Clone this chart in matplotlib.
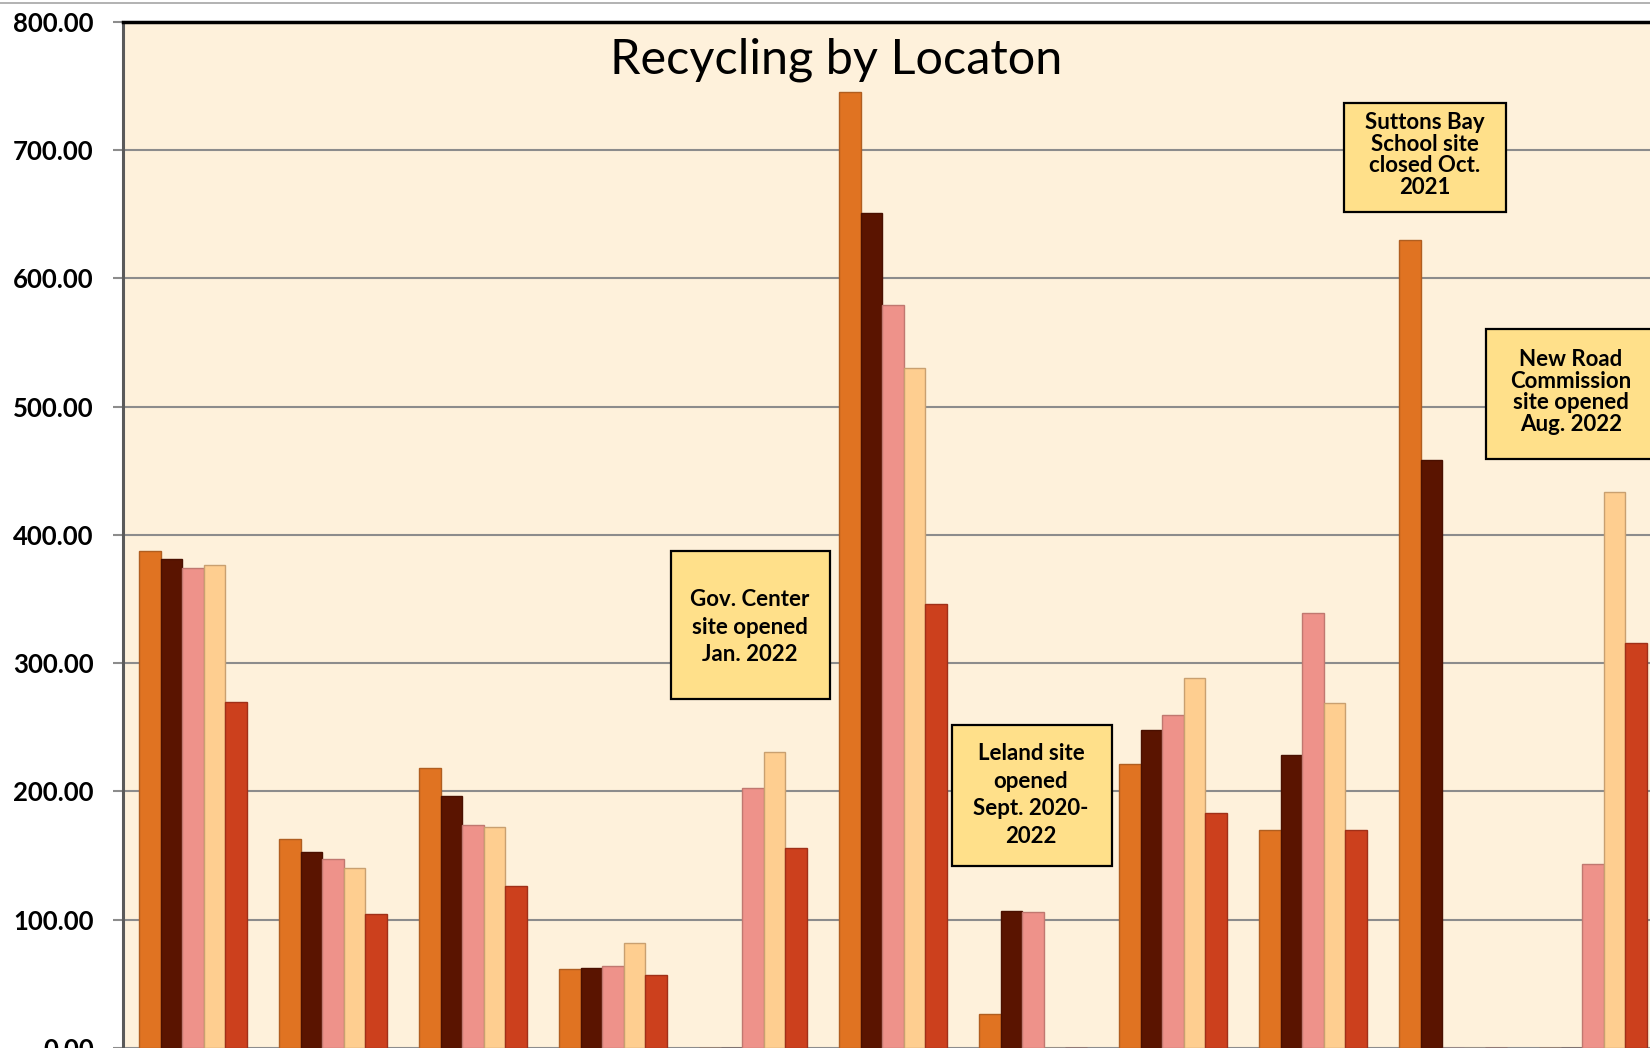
import matplotlib.pyplot as plt
import numpy as np
from matplotlib.patches import Rectangle
from matplotlib.lines import Line2D

plt.rcParams['font.family'] = ['Lato', 'DejaVu Sans']

# valeurs (11 sites, 5 années chacun)
year_1 = [387.7, 163.1, 218.5, 61.6, 0, 745.0, 26.4, 221.0, 170.3, 629.6, 0]
year_2 = [381.2, 153.1, 196.4, 62.4, 0, 651.0, 106.5, 247.9, 228.3, 458.0, 0]
year_3 = [373.8, 147.6, 173.7, 64.0, 202.3, 579.1, 105.7, 259.4, 338.7, 0, 143.5]
year_4 = [376.3, 140.0, 172.0, 82.0, 230.8, 530.0, 0, 288.8, 269.2, 0, 433.6]
year_5 = [270.0, 104.1, 126.2, 56.7, 155.7, 346.0, 0, 183.3, 169.6, 0, 315.8]
series = [year_1, year_2, year_3, year_4, year_5]

colors = ['#E07322', '#5A1400', '#EE928A', '#FECE90', '#CC401D']
edges = ['#B05E20', '#4A1000', '#C07870', '#C9A070', '#A03018']

yticks = [0, 100, 200, 300, 400, 500, 600, 700, 800]
ytick_labels = ['%.2f' % v for v in yticks]

W, H = 1650, 1048
fig = plt.figure(figsize=(W / 100, H / 100), dpi=100)
fig.patch.set_facecolor('white')

left_px, top_px, right_px = 123, 21.7, 1663
ax = fig.add_axes([left_px / W, 0, (right_px - left_px) / W, (H - top_px) / H])
ax.set_facecolor('#FEF1DB')

x = np.arange(len(year_1))
bw = 0.1546
for i, vals in enumerate(series):
    ax.bar(x + (i - 2) * bw, vals, width=bw, color=colors[i],
           edgecolor=edges[i], linewidth=1.0, zorder=3)

ax.set_xlim(-0.5, 10.5)
ax.set_ylim(0, 800)
ax.set_yticks(yticks)
ax.set_yticklabels(ytick_labels, fontsize=18.5, fontweight='bold')
ax.set_xticks([])
ax.grid(axis='y', color='#8C8C8C', linewidth=1.5, zorder=1)
ax.tick_params(axis='y', length=7, width=1.5, color='#8C8C8C', pad=14)

for s in ['right', 'bottom']:
    ax.spines[s].set_visible(False)
ax.spines['top'].set_color('black')
ax.spines['top'].set_linewidth(2.5)
ax.spines['left'].set_color('#5A5A5A')
ax.spines['left'].set_linewidth(2.2)

# ligne grise en haut de la zone du graphique
fig.add_artist(Line2D([0, 1], [1 - 3.3 / H, 1 - 3.3 / H], color='#A6A6A6', linewidth=1.2))

fig.text(836 / W, 1 - 60 / H, 'Recycling by Locaton', ha='center', va='center',
         fontsize=35, color='black')

# encadrés d'annotation (pixels de la figure)
notes = [
    ('Gov. Center\nsite opened\nJan. 2022', (671, 551, 830, 699), (750, 627), 1.4),
    ('Leland site\nopened\nSept. 2020-\n2022', (952, 725, 1112, 866), (1031, 795), 1.4),
    ('Suttons Bay\nSchool site\nclosed Oct.\n2021', (1344, 103, 1506, 212), (1425, 155), 1.02),
    ('New Road\nCommission\nsite opened\nAug. 2022', (1486, 329, 1665, 459), (1571, 392), 1.02),
]
for txt, (x0, y0, x1, y1), (tx, ty), ls in notes:
    rect = Rectangle((x0 / W, 1 - y1 / H), (x1 - x0) / W, (y1 - y0) / H,
                     transform=fig.transFigure, facecolor='#FFE08A',
                     edgecolor='black', linewidth=1.6, zorder=5)
    fig.add_artist(rect)
    fig.text(tx / W, 1 - ty / H, txt, ha='center', va='center', fontsize=16,
             fontweight='bold', linespacing=ls, zorder=6)

fig.savefig('out.png', dpi=100)
